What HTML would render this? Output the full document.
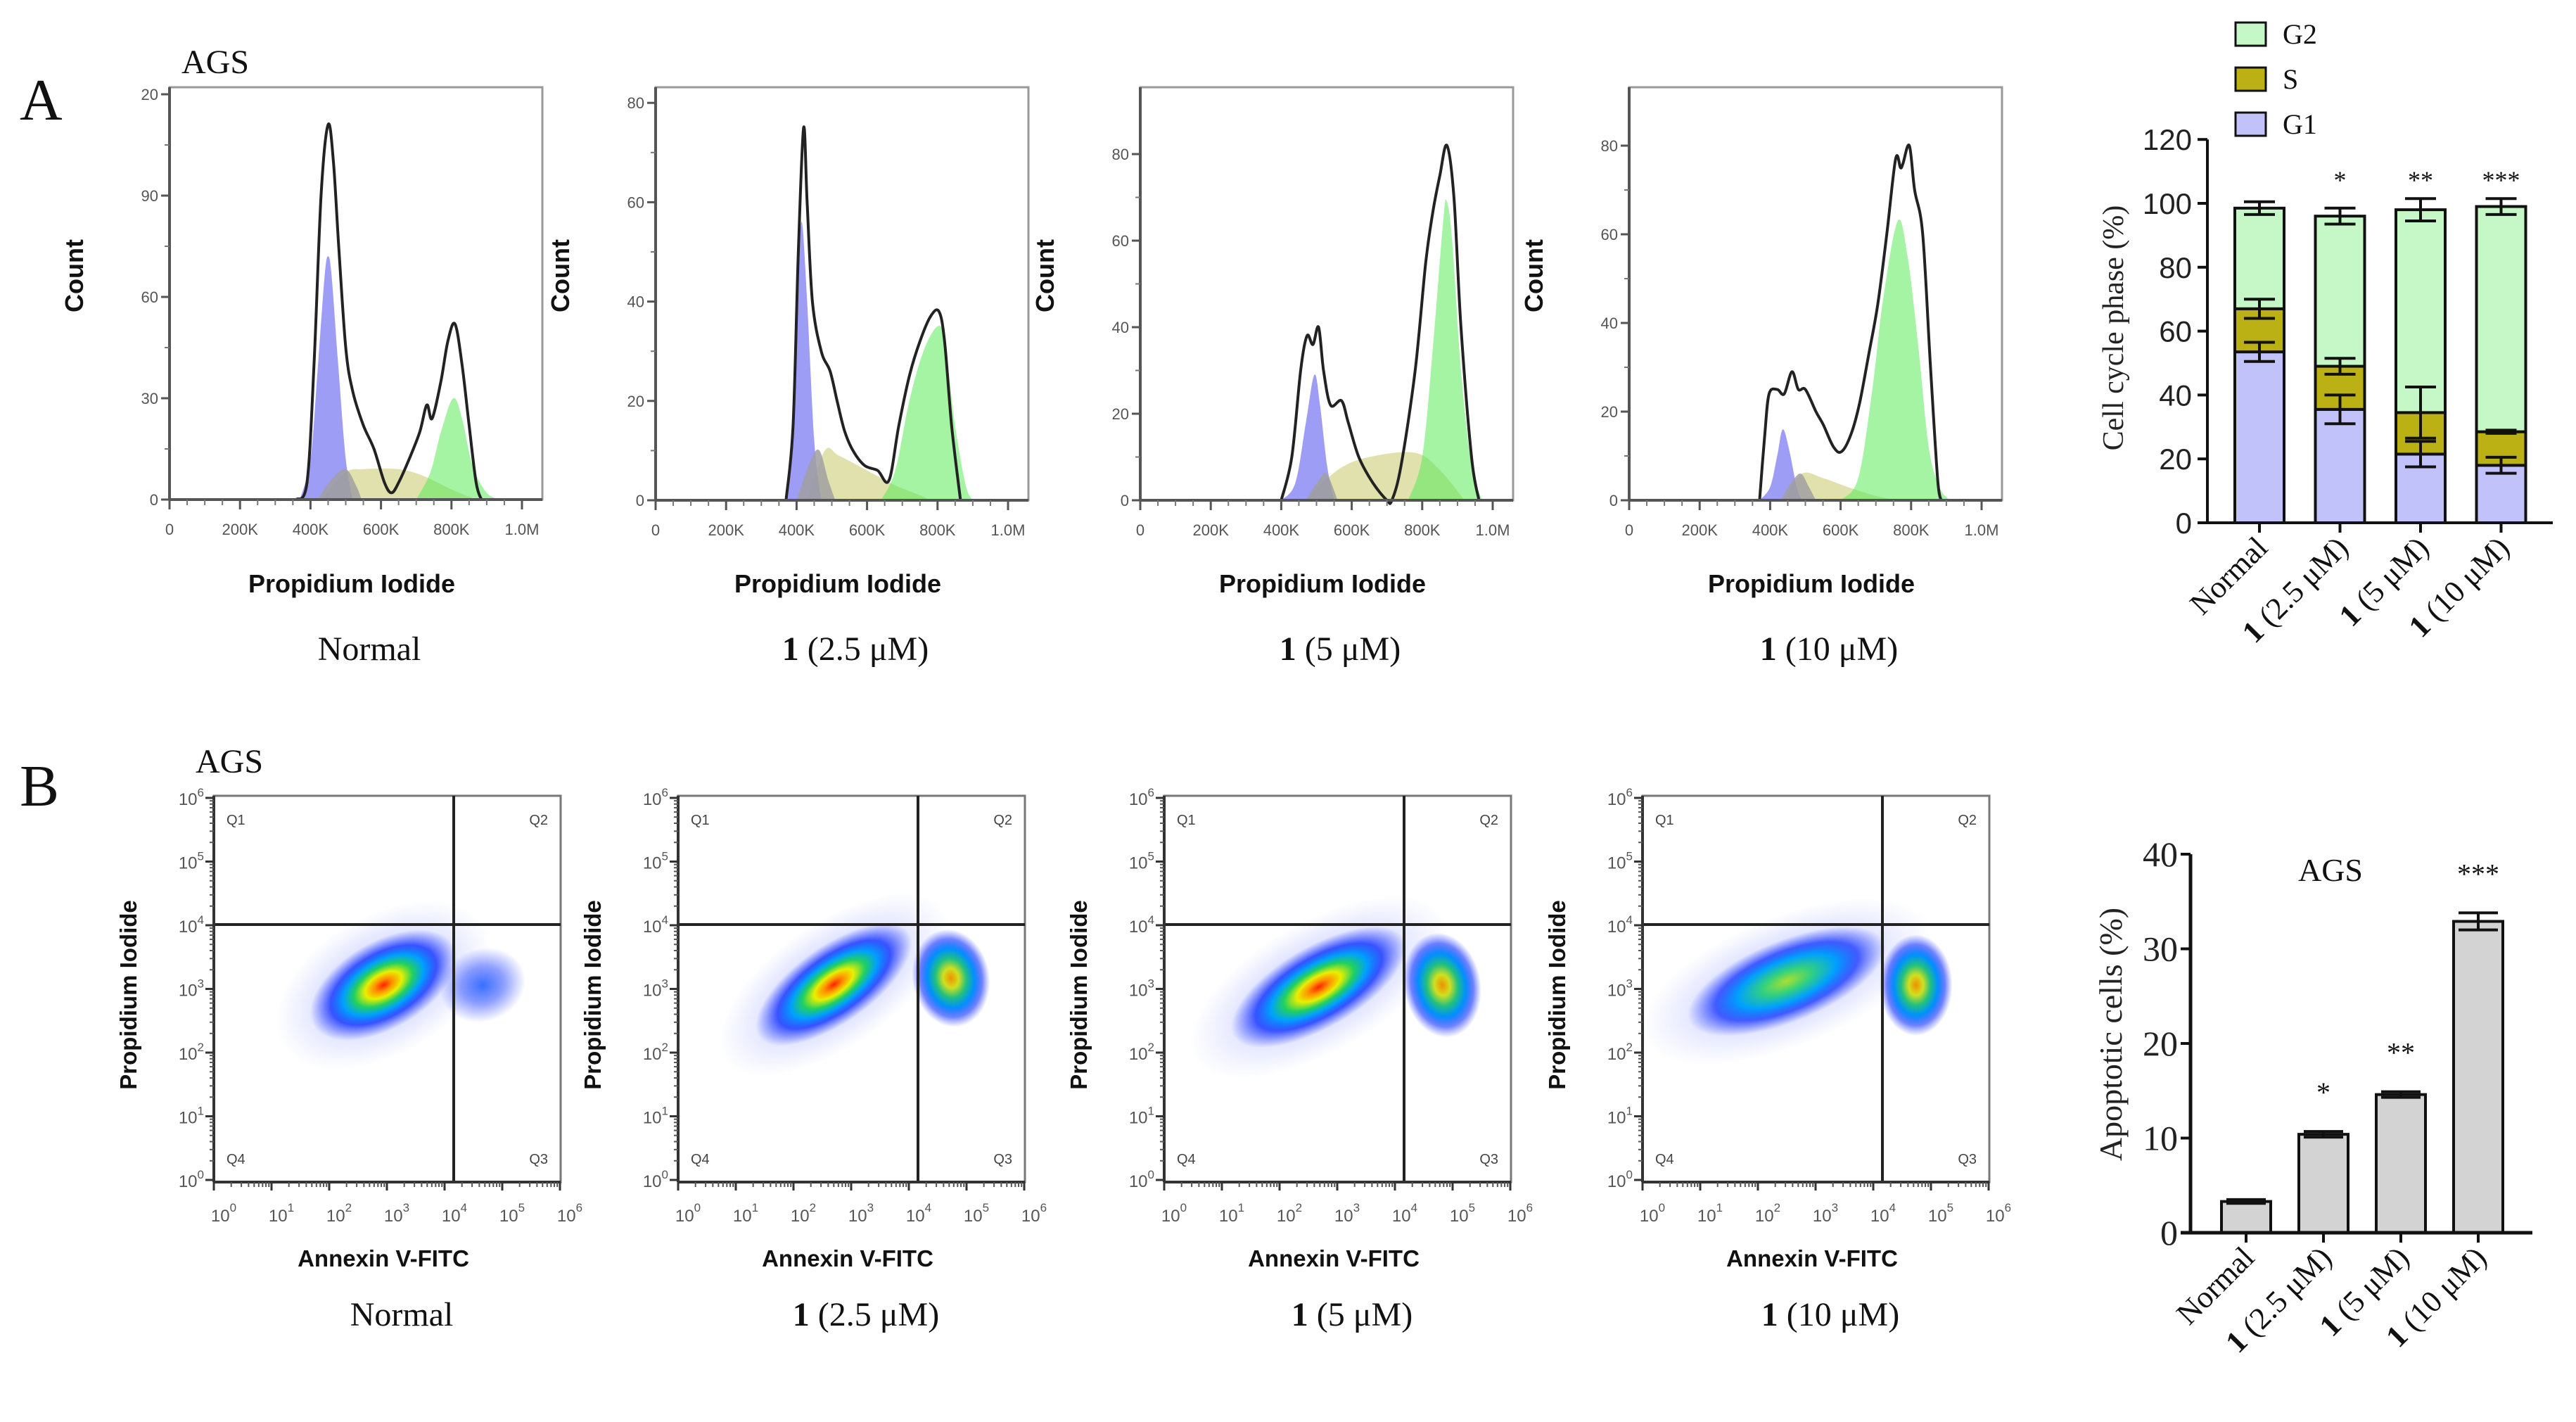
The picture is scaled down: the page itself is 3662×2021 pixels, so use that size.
<!DOCTYPE html>
<html><head><meta charset="utf-8">
<style>
html,body{margin:0;padding:0;background:#fff;}
svg{display:block;}
.sans{font-family:"Liberation Sans",Arial,sans-serif;}
.serif{font-family:"Liberation Serif","Times New Roman",serif;}
</style></head>
<body>
<svg id="fig" width="3662" height="2021" viewBox="0 0 3662 2021" xmlns="http://www.w3.org/2000/svg">
<defs>
<radialGradient id="heat" cx="50%" cy="50%" r="50%">
<stop offset="0" stop-color="#ff2000"/>
<stop offset="0.12" stop-color="#ff9000"/>
<stop offset="0.25" stop-color="#e8f000"/>
<stop offset="0.4" stop-color="#20d060"/>
<stop offset="0.55" stop-color="#00a0ff"/>
<stop offset="0.72" stop-color="#1030ff" stop-opacity="0.8"/>
<stop offset="1" stop-color="#3040ff" stop-opacity="0"/>
</radialGradient>
<radialGradient id="heatMid" cx="50%" cy="50%" r="50%">
<stop offset="0" stop-color="#a8e030"/>
<stop offset="0.25" stop-color="#30d080"/>
<stop offset="0.5" stop-color="#00a0ff"/>
<stop offset="0.72" stop-color="#1030ff" stop-opacity="0.75"/>
<stop offset="1" stop-color="#3040ff" stop-opacity="0"/>
</radialGradient>
<radialGradient id="heatOr" cx="50%" cy="50%" r="50%">
<stop offset="0" stop-color="#f09000"/>
<stop offset="0.2" stop-color="#d0e020"/>
<stop offset="0.4" stop-color="#20c080"/>
<stop offset="0.6" stop-color="#0090ff"/>
<stop offset="0.8" stop-color="#1030ff" stop-opacity="0.6"/>
<stop offset="1" stop-color="#3040ff" stop-opacity="0"/>
</radialGradient>
<radialGradient id="sparse" cx="50%" cy="50%" r="50%">
<stop offset="0" stop-color="#2060ff" stop-opacity="0.9"/>
<stop offset="0.5" stop-color="#3050ff" stop-opacity="0.55"/>
<stop offset="1" stop-color="#4050ff" stop-opacity="0"/>
</radialGradient>
</defs>
<g id="root"></g>
</svg>
<script>
// ---------- Histogram data (x in K, y in counts) ----------
const histXTicks = [0, 200, 400, 600, 800, 1000];
const histXTickText = ['0', '200K', '400K', '600K', '800K', '1.0M'];
const hist1YTicks = [0, 30, 60, 90, 120];
const hist1YText = ['0', '30', '60', '90', '20'];
const histYTicks = [0, 20, 40, 60, 80];
const histYText = ['0', '20', '40', '60', '80'];
const black1 = [[360,0],[390,5],[410,40],[430,90],[450,111],[465,100],[480,75],[500,45],[520,32],[550,22],[580,15],[610,5],[630,2],[650,5],[680,12],[710,20],[730,28],[745,24],[770,35],[790,47],[810,52],[830,40],[850,22],[870,5],[885,0]];
const blue1 = [[370,0],[400,12],[420,38],[440,66],[450,72],[460,66],[480,38],[500,12],[520,0]];
const gray1 = [[420,0],[460,6],[500,9],[530,4],[545,0]];
const yellow1 = [[430,0],[500,8],[550,9],[650,9],[720,7],[800,3],[870,0]];
const green1 = [[700,0],[740,8],[770,20],[805,30],[830,24],[860,10],[900,2],[940,0]];
const black2 = [[370,0],[390,15],[405,50],[420,75],[430,60],[445,40],[470,30],[495,26],[515,20],[536,14],[560,10],[593,7],[630,6],[662,4],[690,15],[720,25],[750,32],[780,37],[804,38],[820,32],[840,15],[865,0]];
const blue2 = [[370,0],[390,18],[405,45],[415,56],[430,40],[450,12],[470,0]];
const gray2 = [[400,0],[440,8],[465,10],[490,4],[510,0]];
const yellow2 = [[430,0],[480,10],[520,9],[600,6],[680,3],[750,1],[780,0]];
const green2 = [[640,0],[680,6],[720,20],[760,30],[800,35],[820,32],[850,15],[880,3],[900,0]];
const black3 = [[400,0],[430,10],[455,30],[473,38],[490,36],[506,40],[520,30],[540,22],[571,23],[590,18],[620,10],[660,4],[700,0],[714,0],[740,8],[780,30],[810,55],[831,67],[850,75],[870,82],[890,70],[910,40],[940,10],[961,0]];
const blue3 = [[400,0],[440,4],[470,18],[494,29],[510,22],[530,8],[550,0]];
const gray3 = [[470,0],[510,5],[530,6],[560,0]];
const yellow3 = [[470,0],[560,7],[650,10],[779,11],[850,7],[920,0]];
const green3 = [[760,0],[800,10],[830,35],[860,65],[870,69],[885,60],[910,30],[940,8],[970,0]];
const black4 = [[370,0],[385,15],[397,24],[420,25],[440,24],[462,29],[480,25],[500,25],[530,20],[551,17],[580,12],[603,11],[630,15],[654,22],[680,33],[705,44],[731,60],[756,77],[770,75],[777,76],[795,80],[810,70],[833,60],[855,30],[875,5],[885,0]];
const blue4 = [[370,0],[400,3],[420,10],[436,16],[455,11],[475,3],[490,0]];
const gray4 = [[430,0],[460,4],[487,6],[510,3],[530,0]];
const yellow4 = [[440,0],[490,6],[550,5],[620,3],[700,1],[760,0]];
const green4 = [[600,0],[650,5],[690,25],[720,45],[762,63],[790,55],[820,35],[850,12],[880,3],[910,0]];
const histTitles = ['Normal', '2.5 μM', '5 μM', '10 μM'];

// ---------- Cell cycle stacked bars ----------
const cellCats = ['Normal', '2.5 μM', '5 μM', '10 μM'];
const g1Vals = [53.5, 35.5, 21.5, 18];
const sVals = [13.5, 13.5, 13, 10.5];
const g2Vals = [31.5, 47, 63.5, 70.5];
const g1Err = [3, 4.5, 4, 2.5];
const sErr = [3, 2.5, 8, 0.5];
const totErr = [2, 2.5, 3.5, 2.5];
const cellSig = ['', '*', '**', '***'];
const cellYTicks = [0, 20, 40, 60, 80, 100, 120];

// ---------- Apoptosis bars ----------
const apopCats = ['Normal', '2.5 μM', '5 μM', '10 μM'];
const apopVals = [3.3, 10.4, 14.6, 32.9];
const apopErr = [0.2, 0.3, 0.3, 0.9];
const apopSig = ['', '*', '**', '***'];
const apopYTicks = [0, 10, 20, 30, 40];

// ---------- Flow scatter blobs (log10 decades) ----------
const scatterMainX = [2.94, 2.70, 2.68, 2.50];
const scatterMainY = [3.06, 3.07, 3.03, 3.12];
const scatterSecX = [4.66, 4.73, 4.82, 4.74];
const scatterSecY = [3.06, 3.17, 3.06, 3.06];
const logTicks = [0, 1, 2, 3, 4, 5, 6];

const NS = 'http://www.w3.org/2000/svg';
const root = document.getElementById('root');
function mk(tag, attrs, parent, text) {
  const e = document.createElementNS(NS, tag);
  for (const k in attrs) e.setAttribute(k, attrs[k]);
  if (text !== undefined) e.textContent = text;
  (parent || root).appendChild(e);
  return e;
}
function crPath(pts) {
  let d = 'M' + pts[0][0].toFixed(1) + ',' + pts[0][1].toFixed(1);
  for (let i = 0; i < pts.length - 1; i++) {
    const p0 = pts[Math.max(0, i - 1)], p1 = pts[i], p2 = pts[i + 1], p3 = pts[Math.min(pts.length - 1, i + 2)];
    const c1x = p1[0] + (p2[0] - p0[0]) / 6, c1y = p1[1] + (p2[1] - p0[1]) / 6;
    const c2x = p2[0] - (p3[0] - p1[0]) / 6, c2y = p2[1] - (p3[1] - p1[1]) / 6;
    d += 'C' + c1x.toFixed(1) + ',' + c1y.toFixed(1) + ' ' + c2x.toFixed(1) + ',' + c2y.toFixed(1) + ' ' + p2[0].toFixed(1) + ',' + p2[1].toFixed(1);
  }
  return d;
}
function condLabel(g, x, y, anchor, size, label, rot) {
  const t = mk('text', {x: x, y: y, 'text-anchor': anchor, 'font-size': size, class: 'serif', fill: '#111'}, g);
  if (rot) t.setAttribute('transform', 'rotate(' + rot + ' ' + x + ' ' + y + ')');
  if (label === 'Normal') { t.textContent = 'Normal'; return t; }
  mk('tspan', {'font-weight': 'bold'}, t, '1');
  mk('tspan', {}, t, ' (' + label + ')');
  return t;
}

// Panel letters & AGS
const la = mk('text', {x: 28, y: 170, 'font-size': 84, class: 'serif', fill: '#111'}, root, 'A');
 
const lb = mk('text', {x: 28, y: 1145, 'font-size': 84, class: 'serif', fill: '#111'}, root, 'B');
 
const ag1 = mk('text', {x: 258, y: 104, 'font-size': 48, class: 'serif', fill: '#111'}, root, 'AGS');
 
const ag2 = mk('text', {x: 278, y: 1098, 'font-size': 48, class: 'serif', fill: '#111'}, root, 'AGS');
 

// ---------- Histograms ----------
const histLayouts = [
  {left: 241, top: 124, base: 710, unit: 4.8},
  {left: 932, top: 124, base: 711, unit: 7.06},
  {left: 1621, top: 124, base: 711, unit: 6.15},
  {left: 2316, top: 124, base: 711, unit: 6.3}
];
const histSeries = [
  [black1, blue1, gray1, yellow1, green1],
  [black2, blue2, gray2, yellow2, green2],
  [black3, blue3, gray3, yellow3, green3],
  [black4, blue4, gray4, yellow4, green4]
];
histLayouts.forEach((L, i) => {
  const g = mk('g', {});
  
  
  const W = 530;
  const xs = k => L.left + k * 0.501;
  const ys = c => L.base - c * L.unit;
  const frame = mk('rect', {x: L.left, y: L.top, width: W, height: L.base - L.top, fill: '#fff', stroke: '#999', 'stroke-width': 3}, g);
   
  const [bk, bl, gr, ye, gn] = histSeries[i];
  const fillArea = (pts, col, name) => {
    const p = pts.map(q => [xs(q[0]), ys(q[1])]);
    const a = mk('path', {d: crPath(p) + 'Z', fill: col, stroke: 'none'}, g);
     
  };
  fillArea(ye, 'rgba(205,205,120,0.6)', 'phase-s-area');
  fillArea(gn, 'rgba(90,235,90,0.55)', 'phase-g2-area');
  fillArea(bl, 'rgba(105,105,240,0.65)', 'phase-g1-area');
  fillArea(gr, 'rgba(160,160,160,0.85)', 'debris-overlap-area');
  const line = mk('path', {d: crPath(bk.map(q => [xs(q[0]), ys(q[1])])), fill: 'none', stroke: '#222', 'stroke-width': 4, 'stroke-linejoin': 'round'}, g);
   
  // axes
  mk('line', {x1: L.left, y1: L.top, x2: L.left, y2: L.base, stroke: '#555', 'stroke-width': 4}, g);
  mk('line', {x1: L.left, y1: L.base, x2: L.left + W, y2: L.base, stroke: '#555', 'stroke-width': 4}, g);
  const yt = i === 0 ? hist1YTicks : histYTicks, ytx = i === 0 ? hist1YText : histYText;
  yt.forEach((v, j) => {
    mk('line', {x1: L.left - 12, y1: ys(v), x2: L.left, y2: ys(v), stroke: '#555', 'stroke-width': 3}, g);
    if (j < yt.length - 1) { const mv = (v + yt[j + 1]) / 2; mk('line', {x1: L.left - 7, y1: ys(mv), x2: L.left, y2: ys(mv), stroke: '#777', 'stroke-width': 2}, g); }
    const t = mk('text', {x: L.left - 16, y: ys(v) + 8, 'text-anchor': 'end', 'font-size': 22, class: 'sans', fill: '#555'}, g, ytx[j]);
     
  });
  histXTicks.forEach((v, j) => {
    mk('line', {x1: xs(v), y1: L.base, x2: xs(v), y2: L.base + 14, stroke: '#555', 'stroke-width': 3}, g);
    const t = mk('text', {x: xs(v), y: L.base + 50, 'text-anchor': 'middle', 'font-size': 22, class: 'sans', fill: '#555'}, g, histXTickText[j]);
     
  });
  for (let k = 50; k < 1050; k += 50) if (k % 200) mk('line', {x1: xs(k), y1: L.base, x2: xs(k), y2: L.base + 8, stroke: '#777', 'stroke-width': 2}, g);
  const yl = mk('text', {x: L.left - 135, y: 380, 'text-anchor': 'middle', 'font-size': 36, 'font-weight': 'bold', class: 'sans', fill: '#111', transform: 'rotate(-90 ' + (L.left - 123) + ' 380)'}, g, 'Count');
   
  const xl = mk('text', {x: L.left + 259, y: 842, 'text-anchor': 'middle', 'font-size': 36, 'font-weight': 'bold', class: 'sans', fill: '#111'}, g, 'Propidium Iodide');
   
  const ct = condLabel(g, L.left + 284, 938, 'middle', 48, histTitles[i]);
   
});

// ---------- Scatter (Annexin / PI) ----------
const scLefts = [304, 964, 1655, 2335];
const mainGrad = ['heat', 'heat', 'heat', 'heatMid'];
const secGrad = ['sparse', 'heatOr', 'heatOr', 'heatOr'];
const mainShape = [[115, 62, -30], [130, 55, -35], [140, 58, -30], [150, 58, -22]];
const secShape = [[62, 52, -20], [55, 70, -10], [55, 75, -10], [52, 72, 0]];
scLefts.forEach((left, i) => {
  const g = mk('g', {});
  
  
  const top = 1131, bot = 1680, W = 493, dec = 82, ydec = 90.5, y0 = 1677;
  const xs = v => left + v * dec, ys = v => y0 - v * ydec;
  mk('rect', {x: left, y: top, width: W, height: bot - top, fill: '#fff', stroke: '#777', 'stroke-width': 3}, g);
  const drawBlob = (cx, cy, sh, grad, name) => {
    const e = mk('ellipse', {cx: cx, cy: cy, rx: sh[0], ry: sh[1], fill: 'url(#' + grad + ')', transform: 'rotate(' + sh[2] + ' ' + cx + ' ' + cy + ')'}, g);
     
  };
  // faint haze
  const hz = mk('ellipse', {cx: xs(scatterMainX[i]), cy: ys(scatterMainY[i]), rx: mainShape[i][0] * 1.45, ry: mainShape[i][1] * 1.6, fill: 'url(#sparse)', opacity: 0.35, transform: 'rotate(' + mainShape[i][2] + ' ' + xs(scatterMainX[i]) + ' ' + ys(scatterMainY[i]) + ')'}, g);
   
  drawBlob(xs(scatterSecX[i]), ys(scatterSecY[i]), secShape[i], secGrad[i], 'late-apoptotic-cluster');
  drawBlob(xs(scatterMainX[i]), ys(scatterMainY[i]), mainShape[i], mainGrad[i], 'live-cell-cluster');
  // gates
  const gx = left + 341, gy = 1314;
  const v = mk('line', {x1: gx, y1: top, x2: gx, y2: bot, stroke: '#222', 'stroke-width': 4}, g);
   
  const h = mk('line', {x1: left, y1: gy, x2: left + W, y2: gy, stroke: '#222', 'stroke-width': 4}, g);
   
  [['Q1', left + 18, 1172, 'start'], ['Q2', left + W - 18, 1172, 'end'], ['Q4', left + 18, 1654, 'start'], ['Q3', left + W - 18, 1654, 'end']].forEach(q => {
    const t = mk('text', {x: q[1], y: q[2], 'text-anchor': q[3], 'font-size': 20, class: 'sans', fill: '#444'}, g, q[0]);
     
  });
  mk('line', {x1: left, y1: top, x2: left, y2: bot, stroke: '#333', 'stroke-width': 4}, g);
  mk('line', {x1: left, y1: bot, x2: left + W, y2: bot, stroke: '#333', 'stroke-width': 4}, g);
  logTicks.forEach(d => {
    mk('line', {x1: left - 12, y1: ys(d), x2: left, y2: ys(d), stroke: '#333', 'stroke-width': 3}, g);
    const ty = mk('text', {x: left - 14, y: ys(d) + 10, 'text-anchor': 'end', 'font-size': 24, class: 'sans', fill: '#555'}, g);
     
    mk('tspan', {}, ty, '10'); mk('tspan', {dy: -12, 'font-size': 17}, ty, String(d));
    mk('line', {x1: xs(d), y1: bot, x2: xs(d), y2: bot + 12, stroke: '#333', 'stroke-width': 3}, g);
    const tx = mk('text', {x: xs(d) + 14, y: bot + 56, 'text-anchor': 'middle', 'font-size': 24, class: 'sans', fill: '#555'}, g);
     
    mk('tspan', {}, tx, '10'); mk('tspan', {dy: -14, 'font-size': 17}, tx, String(d));
    if (d < 6) for (let m = 2; m < 10; m++) {
      const o = Math.log10(m);
      mk('line', {x1: left - 6, y1: ys(d + o), x2: left, y2: ys(d + o), stroke: '#555', 'stroke-width': 2}, g);
      mk('line', {x1: xs(d + o), y1: bot, x2: xs(d + o), y2: bot + 7, stroke: '#555', 'stroke-width': 2}, g);
    }
  });
  const yl = mk('text', {x: left - 120, y: 1404, 'text-anchor': 'middle', 'font-size': 33, 'font-weight': 'bold', class: 'sans', fill: '#111', transform: 'rotate(-90 ' + (left - 110) + ' 1404)'}, g, 'Propidium Iodide');
   
  const xl = mk('text', {x: left + 241, y: 1800, 'text-anchor': 'middle', 'font-size': 33, 'font-weight': 'bold', class: 'sans', fill: '#111'}, g, 'Annexin V-FITC');
   
  const ct = condLabel(g, left + 267, 1884, 'middle', 48, histTitles[i]);
   
});

// ---------- Cell cycle stacked bar chart ----------
(function () {
  const g = mk('g', {});
  
  
  const ax = 3138, y0 = 743, per = 4.54, bw = 70, step = 114.5, c0 = 3212;
  const ys = v => y0 - v * per, xc = i => c0 + i * step;
  const cols = {g1: '#c2c2fa', s: '#bcb114', g2: '#c6f7c6'};
  cellCats.forEach((c, i) => {
    const parts = [[0, g1Vals[i], cols.g1, 'bar-g1'], [g1Vals[i], sVals[i], cols.s, 'bar-s'], [g1Vals[i] + sVals[i], g2Vals[i], cols.g2, 'bar-g2']];
    parts.forEach(p => {
      const r = mk('rect', {x: xc(i) - bw / 2, y: ys(p[0] + p[1]), width: bw, height: p[1] * per, fill: p[2], stroke: '#111', 'stroke-width': 4}, g);
       
    });
    const errs = [[g1Vals[i], g1Err[i]], [g1Vals[i] + sVals[i], sErr[i]], [g1Vals[i] + sVals[i] + g2Vals[i], totErr[i]]];
    errs.forEach(e => {
      const eg = mk('g', {stroke: '#111', 'stroke-width': 4}, g);
       
      mk('line', {x1: xc(i), y1: ys(e[0] - e[1]), x2: xc(i), y2: ys(e[0] + e[1])}, eg);
      mk('line', {x1: xc(i) - 22, y1: ys(e[0] - e[1]), x2: xc(i) + 22, y2: ys(e[0] - e[1])}, eg);
      mk('line', {x1: xc(i) - 22, y1: ys(e[0] + e[1]), x2: xc(i) + 22, y2: ys(e[0] + e[1])}, eg);
    });
    if (cellSig[i]) { const s = mk('text', {x: xc(i), y: 268, 'text-anchor': 'middle', 'font-size': 36, class: 'serif', fill: '#111'}, g, cellSig[i]);   }
    mk('line', {x1: xc(i), y1: y0, x2: xc(i), y2: y0 + 14, stroke: '#111', 'stroke-width': 4}, g);
    const lbl = condLabel(g, xc(i) + 14, y0 + 38, 'end', 44, c, -45);
     
  });
  mk('line', {x1: ax, y1: ys(120), x2: ax, y2: y0, stroke: '#111', 'stroke-width': 4}, g);
  mk('line', {x1: ax, y1: y0, x2: 3629, y2: y0, stroke: '#111', 'stroke-width': 4}, g);
  cellYTicks.forEach(v => {
    mk('line', {x1: ax - 14, y1: ys(v), x2: ax, y2: ys(v), stroke: '#111', 'stroke-width': 4}, g);
    const t = mk('text', {x: ax - 22, y: ys(v) + 15, 'text-anchor': 'end', 'font-size': 42, class: 'sans', fill: '#222'}, g, String(v));
     
  });
  const yl = mk('text', {x: 3004, y: 466, 'text-anchor': 'middle', 'font-size': 42, class: 'serif', fill: '#222', transform: 'rotate(-90 3004 466)', dy: 14}, g, 'Cell cycle phase (%)');
   
  [['G2', cols.g2, 32], ['S', cols.s, 96], ['G1', cols.g1, 160]].forEach(l => {
    const lg = mk('g', {}, g);
     
    mk('rect', {x: 3178, y: l[2], width: 43, height: 33, fill: l[1], stroke: '#111', 'stroke-width': 3}, lg);
    mk('text', {x: 3245, y: l[2] + 30, 'font-size': 40, class: 'serif', fill: '#111'}, lg, l[0]);
  });
})();

// ---------- Apoptosis bar chart ----------
(function () {
  const g = mk('g', {});
  
  
  const ax = 3114, y0 = 1752, per = 13.45, bw = 70, step = 110, c0 = 3193;
  const ys = v => y0 - v * per, xc = i => c0 + i * step;
  apopCats.forEach((c, i) => {
    const r = mk('rect', {x: xc(i) - bw / 2, y: ys(apopVals[i]), width: bw, height: apopVals[i] * per, fill: '#d3d3d3', stroke: '#111', 'stroke-width': 4}, g);
     
    const eg = mk('g', {stroke: '#111', 'stroke-width': 4}, g);
     
    const hi = ys(apopVals[i] + apopErr[i]), lo = ys(apopVals[i] - apopErr[i]);
    mk('line', {x1: xc(i), y1: hi, x2: xc(i), y2: lo}, eg);
    mk('line', {x1: xc(i) - 28, y1: hi, x2: xc(i) + 28, y2: hi}, eg);
    mk('line', {x1: xc(i) - 28, y1: lo, x2: xc(i) + 28, y2: lo}, eg);
    if (apopSig[i]) { const s = mk('text', {x: xc(i), y: ys(apopVals[i] + apopErr[i]) - 42, 'text-anchor': 'middle', 'font-size': 40, class: 'serif', fill: '#111'}, g, apopSig[i]);   }
    mk('line', {x1: xc(i), y1: y0, x2: xc(i), y2: y0 + 14, stroke: '#111', 'stroke-width': 4}, g);
    const lbl = condLabel(g, xc(i) + 14, y0 + 38, 'end', 44, c, -45);
     
  });
  mk('line', {x1: ax, y1: ys(40), x2: ax, y2: y0, stroke: '#111', 'stroke-width': 5}, g);
  mk('line', {x1: 3100, y1: y0, x2: 3600, y2: y0, stroke: '#111', 'stroke-width': 5}, g);
  apopYTicks.forEach(v => {
    mk('line', {x1: ax - 14, y1: ys(v), x2: ax, y2: ys(v), stroke: '#111', 'stroke-width': 4}, g);
    const t = mk('text', {x: ax - 18, y: ys(v) + 17, 'text-anchor': 'end', 'font-size': 50, class: 'serif', fill: '#222'}, g, String(v));
     
  });
  const tt = mk('text', {x: 3313, y: 1252, 'text-anchor': 'middle', 'font-size': 46, class: 'serif', fill: '#111'}, g, 'AGS');
   
  const yl = mk('text', {x: 3000, y: 1470, 'text-anchor': 'middle', 'font-size': 46, class: 'serif', fill: '#222', transform: 'rotate(-90 3000 1470)', dy: 16}, g, 'Apoptotic cells (%)');
   
})();
</script>
</body></html>
